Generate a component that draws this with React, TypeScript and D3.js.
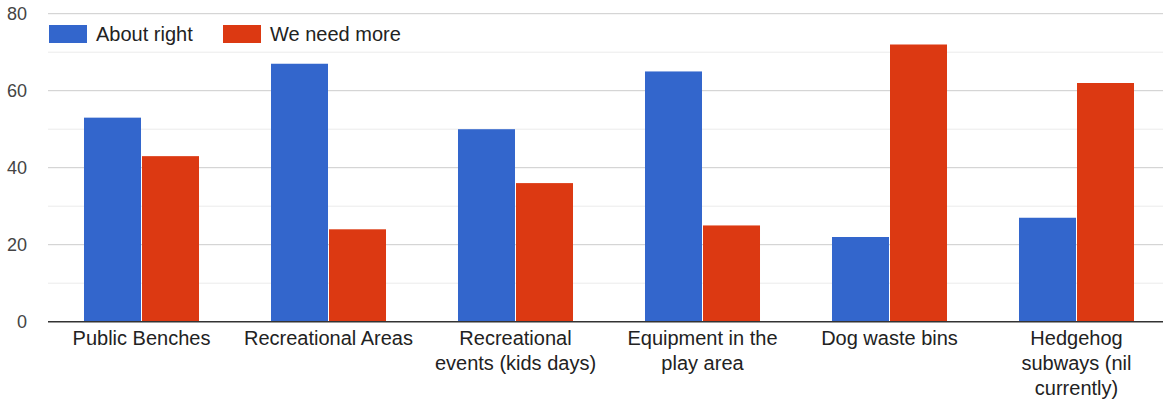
import React from "react";
import * as d3 from "d3";

const categories = [
  "Public Benches",
  "Recreational Areas",
  "Recreational\nevents (kids days)",
  "Equipment in the\nplay area",
  "Dog waste bins",
  "Hedgehog\nsubways (nil\ncurrently)",
];
const seriesNames = ["About right", "We need more"];
const aboutRight = [53, 67, 50, 65, 22, 27];
const weNeedMore = [43, 24, 36, 25, 72, 62];
const yTicks = [0, 20, 40, 60, 80];
const minorTicks = [10, 30, 50, 70];

const colors = ["#3366cc", "#dc3912"];
const W = 1163;
const H = 403;
const FONT = "Arial, 'Liberation Sans', sans-serif";

export default function App() {
  const x = d3
    .scaleBand<string>()
    .domain(categories)
    .range([48, 1170])
    .paddingInner(0.385)
    .paddingOuter(0.1925);
  const xs = d3.scaleBand<string>().domain(seriesNames).range([0, x.bandwidth()]);
  const y = d3.scaleLinear().domain([0, 80]).range([321.7, 13.7]);
  const series = [aboutRight, weNeedMore];

  return (
    <svg
      width={W}
      height={H}
      style={{ position: "fixed", left: 0, top: 0, background: "#fff" }}
      fontFamily={FONT}
    >
      <rect width={W} height={H} fill="#fff" />
      {minorTicks.map((t) => (
        <line key={"m" + t} x1={48} x2={W} y1={y(t)} y2={y(t)} stroke="#ebebeb" strokeWidth={1} />
      ))}
      {yTicks.filter((t) => t !== 0).map((t) => (
        <line key={"g" + t} x1={48} x2={W} y1={y(t)} y2={y(t)} stroke="#cccccc" strokeWidth={1} />
      ))}
      {yTicks.map((t) => (
        <text
          key={"t" + t}
          x={27}
          y={y(t)}
          textAnchor="end"
          dominantBaseline="central"
          fontSize={18}
          fill="#444"
        >
          {t}
        </text>
      ))}
      {categories.map((c, i) =>
        series.map((s, si) => (
          <rect
            key={c + si}
            x={(x(c) as number) + (xs(seriesNames[si]) as number) + (si === 1 ? 0.5 : 0)}
            y={y(s[i])}
            width={xs.bandwidth() - 0.5}
            height={y(0) - y(s[i])}
            fill={colors[si]}
          />
        ))
      )}
      <line x1={48} x2={W} y1={y(0)} y2={y(0)} stroke="#333" strokeWidth={1.5} />
      {categories.map((c) => {
        const lines = c.split("\n");
        const cx = (x(c) as number) + x.bandwidth() / 2;
        return (
          <text key={"l" + c} textAnchor="middle" fontSize={20} fill="#222">
            {lines.map((ln, li) => (
              <tspan key={li} x={cx} y={345 + li * 25}>
                {ln}
              </tspan>
            ))}
          </text>
        );
      })}
      {seriesNames.map((n, i) => {
        const lx = i === 0 ? 49 : 223;
        return (
          <g key={n}>
            <rect x={lx} y={25} width={38} height={18} fill={colors[i]} />
            <text x={lx + 47} y={34} dominantBaseline="central" fontSize={20} fill="#222">
              {n}
            </text>
          </g>
        );
      })}
    </svg>
  );
}
